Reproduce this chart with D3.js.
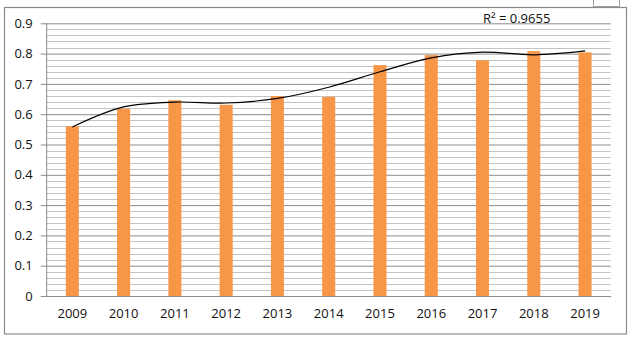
<!DOCTYPE html>
<html>
<head>
<meta charset="utf-8">
<script src="https://cdn.jsdelivr.net/npm/d3@7/dist/d3.min.js"></script>
<style>
  html, body { margin: 0; padding: 0; background: #fff; }
  svg { display: block; }
  text { font-family: "Open Sans", "DejaVu Sans", sans-serif; fill: #111; }
</style>
</head>
<body>
<svg id="chart" width="631" height="339"></svg>
<script>
// Yearly index values (bars)
const years = ["2009", "2010", "2011", "2012", "2013", "2014", "2015", "2016", "2017", "2018", "2019"];
const values = [0.56, 0.618, 0.646, 0.631, 0.66, 0.657, 0.762, 0.795, 0.778, 0.808, 0.804];
// Polynomial trendline, sampled at each year
const trendValues = [0.558, 0.624, 0.640, 0.637, 0.652, 0.689, 0.740, 0.786, 0.805, 0.796, 0.809];
const trendLabel = "R\u00B2 = 0.9655";
// Axis ticks
const majorTicks = [0, 0.1, 0.2, 0.3, 0.4, 0.5, 0.6, 0.7, 0.8, 0.9];
const minorTicks = d3.range(0, 46).map(i => i * 0.02);

const svg = d3.select("#chart");
const plotLeft = 46.7, plotRight = 610.7, plotTop = 23.3, plotBottom = 296;
const labelSize = "13px";

const x = d3.scaleBand()
  .domain(years)
  .range([plotLeft, plotRight])
  .paddingInner(0.746)
  .paddingOuter(0.373);

const y = d3.scaleLinear().domain([0, 0.9]).range([plotBottom, plotTop]);

// Outer chart frame
svg.append("rect")
  .attr("x", 4.5).attr("y", 7.5)
  .attr("width", 622).attr("height", 326.5)
  .attr("fill", "none").attr("stroke", "#8a8a8a").attr("stroke-width", 1.2);

// small tab at the top-right corner
svg.append("path")
  .attr("d", "M593.5,0 V7 M593.5,6.5 H619.5 M619.5,0 V6.5")
  .attr("fill", "none").attr("stroke", "#a0a0a0").attr("stroke-width", 1);

// Minor gridlines
svg.append("g")
  .selectAll("line")
  .data(minorTicks.filter(v => Math.round(v * 100) % 10 !== 0))
  .join("line")
  .attr("x1", plotLeft).attr("x2", plotRight)
  .attr("y1", d => Math.round(y(d)) + 0.5).attr("y2", d => Math.round(y(d)) + 0.5)
  .attr("stroke", "#c4c4c4").attr("stroke-width", 1);

// Major gridlines via the y axis
const yAxis = svg.append("g")
  .attr("transform", `translate(${plotLeft},0)`)
  .call(d3.axisLeft(y)
    .tickValues(majorTicks)
    .tickSize(-(plotRight - plotLeft))
    .tickPadding(14)
    .tickFormat(d => d === 0 ? "0" : d3.format(".1f")(d)));
yAxis.select(".domain").remove();
yAxis.selectAll(".tick line")
  .attr("stroke", "#8c8c8c")
  .attr("x1", -6);
yAxis.selectAll(".tick text")
  .attr("font-size", labelSize)
  .attr("fill", "#111");

// Vertical axis line
svg.append("line")
  .attr("x1", plotLeft).attr("x2", plotLeft)
  .attr("y1", plotTop).attr("y2", plotBottom)
  .attr("stroke", "#8c8c8c").attr("stroke-width", 1);

// Category axis
const xAxis = svg.append("g")
  .attr("transform", `translate(0,${plotBottom})`)
  .call(d3.axisBottom(x).tickSize(0).tickPadding(13));
xAxis.select(".domain").attr("stroke", "#8c8c8c");
xAxis.selectAll(".tick text").attr("font-size", labelSize).attr("fill", "#111");

// Bars
svg.append("g")
  .selectAll("rect")
  .data(years.map((yr, i) => ({ yr, v: values[i] })))
  .join("rect")
  .attr("x", d => x(d.yr))
  .attr("width", x.bandwidth())
  .attr("y", d => y(d.v))
  .attr("height", d => y(0) - y(d.v))
  .attr("fill", "#f79646");

// Trendline
const line = d3.line()
  .x((d, i) => x(years[i]) + x.bandwidth() / 2)
  .y(d => y(d))
  .curve(d3.curveCatmullRom.alpha(0.5));
svg.append("path")
  .datum(trendValues)
  .attr("d", line)
  .attr("fill", "none")
  .attr("stroke", "#000")
  .attr("stroke-width", 1.2);

// Trendline label
svg.append("text")
  .attr("x", 483).attr("y", 23)
  .attr("font-size", labelSize)
  .text(trendLabel);
</script>
</body>
</html>
